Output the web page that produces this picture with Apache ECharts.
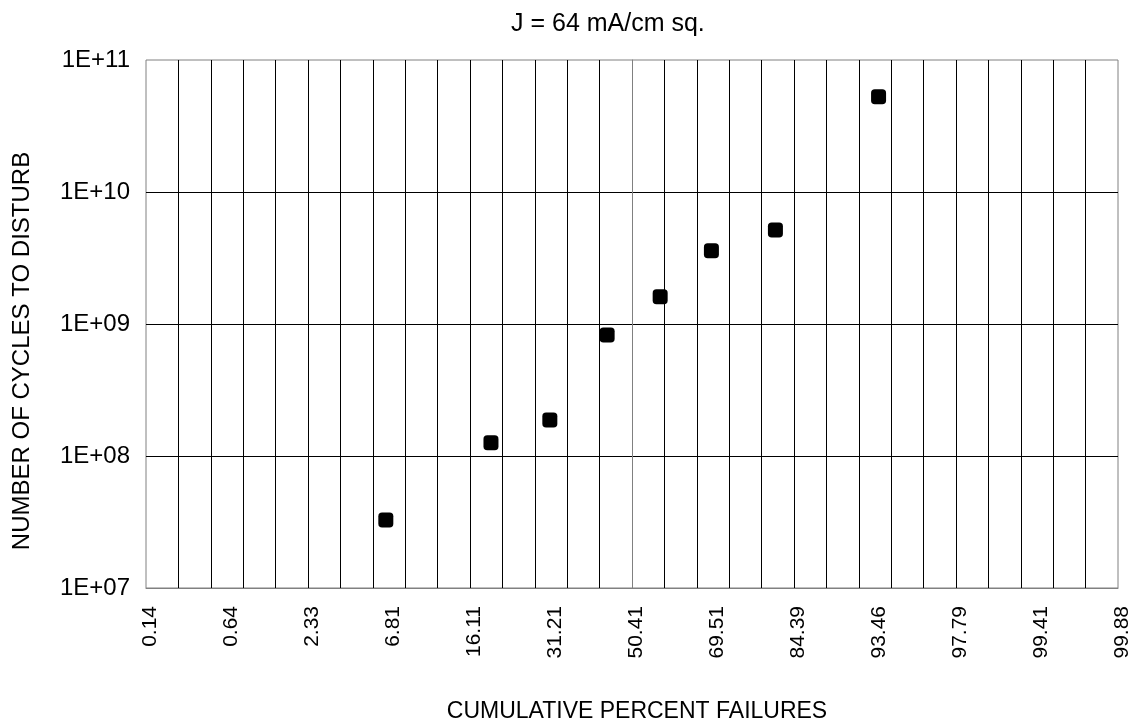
<!DOCTYPE html>
<html>
<head>
<meta charset="utf-8">
<script src="https://cdn.jsdelivr.net/npm/echarts@6/dist/echarts.min.js"></script>
<style>html,body{margin:0;padding:0;background:#fff;}#c{width:1139px;height:726px;}</style>
</head>
<body>
<div id="c"></div>
<script>
// Tick labels (cumulative percent at z = -3 ... 3 step 0.5 on a normal-probability scale)
var xTickLabels = ['0.14','0.64','2.33','6.81','16.11','31.21','50.41','69.51','84.39','93.46','97.79','99.41','99.88'];
// Data
var cumPercent = [6.43, 19.2, 30.6, 43.9, 56.9, 68.8, 81.2, 93.6];
var cycles = [3.27e7, 1.26e8, 1.87e8, 8.25e8, 1.61e9, 3.59e9, 5.15e9, 5.27e10];

// inverse normal CDF (Acklam) -> probability-scale position
function probit(p){
  var a=[-3.969683028665376e+01,2.209460984245205e+02,-2.759285104469687e+02,1.383577518672690e+02,-3.066479806614716e+01,2.506628277459239e+00];
  var b=[-5.447609879822406e+01,1.615858368580409e+02,-1.556989798598866e+02,6.680131188771972e+01,-1.328068155288572e+01];
  var c=[-7.784894002430293e-03,-3.223964580411365e-01,-2.400758277161838e+00,-2.549732539343734e+00,4.374664141464968e+00,2.938163982698783e+00];
  var d=[7.784695709041462e-03,3.224671290700398e-01,2.445134137142996e+00,3.754408661907416e+00];
  var pl=0.02425, q, r;
  if(p<pl){q=Math.sqrt(-2*Math.log(p));return (((((c[0]*q+c[1])*q+c[2])*q+c[3])*q+c[4])*q+c[5])/((((d[0]*q+d[1])*q+d[2])*q+d[3])*q+1);}
  if(p>1-pl){q=Math.sqrt(-2*Math.log(1-p));return -(((((c[0]*q+c[1])*q+c[2])*q+c[3])*q+c[4])*q+c[5])/((((d[0]*q+d[1])*q+d[2])*q+d[3])*q+1);}
  q=p-0.5;r=q*q;
  return (((((a[0]*r+a[1])*r+a[2])*r+a[3])*r+a[4])*r+a[5])*q/(((((b[0]*r+b[1])*r+b[2])*r+b[3])*r+b[4])*r+1);
}
var pts = cumPercent.map(function(p,i){ return [probit(p/100), cycles[i]]; });

var font = '"Liberation Sans", Arial, Helvetica, sans-serif';
var chart = echarts.init(document.getElementById('c'), null, {renderer:'canvas'});
chart.setOption({
  animation:false,
  backgroundColor:'#fff',
  title:{text:'J = 64 mA/cm sq.', left:506, top:7, textStyle:{fontFamily:font,fontSize:25,fontWeight:'normal',color:'#000'}},
  grid:{left:146, right:21, top:60, bottom:138, outerBoundsMode:'none', containLabel:false, show:true, borderColor:'#808080', borderWidth:1, backgroundColor:'transparent'},
  xAxis:[
    {type:'value', min:-3, max:3, interval:0.2, position:'bottom',
     axisLine:{show:false}, axisTick:{show:false}, axisLabel:{show:false},
     splitLine:{show:true, showMinLine:false, showMaxLine:false, lineStyle:{color:'#000',width:1}}},
    {type:'value', min:-3, max:3, interval:0.5, position:'bottom',
     axisLine:{show:true, lineStyle:{color:'#808080'}}, axisTick:{show:false},
     splitLine:{show:false},
     axisLabel:{rotate:90, margin:18, fontFamily:font, fontSize:21, color:'#000', verticalAlign:'top', lineHeight:8,
       formatter:function(v){ var i=Math.round((v+3)/0.5); return xTickLabels[i]||''; }},
     name:'CUMULATIVE PERCENT FAILURES', nameLocation:'middle', nameGap:112,
     nameTextStyle:{fontFamily:font,fontSize:23,color:'#000', padding:[0,0,0,10]}}
  ],
  yAxis:{type:'log', logBase:10, min:1e7, max:1e11,
    axisLine:{show:true, lineStyle:{color:'#808080'}}, axisTick:{show:false},
    splitLine:{show:true, showMinLine:false, showMaxLine:false, lineStyle:{color:'#000',width:1}},
    axisLabel:{margin:16, fontFamily:font, fontSize:24, color:'#000',
      formatter:function(v){ var e=Math.round(Math.log10(v)); return '1E+'+(e<10?'0':'')+e; }},
    name:'NUMBER OF CYCLES TO DISTURB', nameLocation:'middle', nameGap:112, nameRotate:90,
    nameTextStyle:{fontFamily:font,fontSize:24,color:'#000', padding:[0,54,0,0]}},
  series:[{type:'scatter', xAxisIndex:1, data:pts, symbol:'roundRect', symbolSize:15,
    itemStyle:{color:'#000', opacity:1}}]
});
</script>
</body>
</html>
